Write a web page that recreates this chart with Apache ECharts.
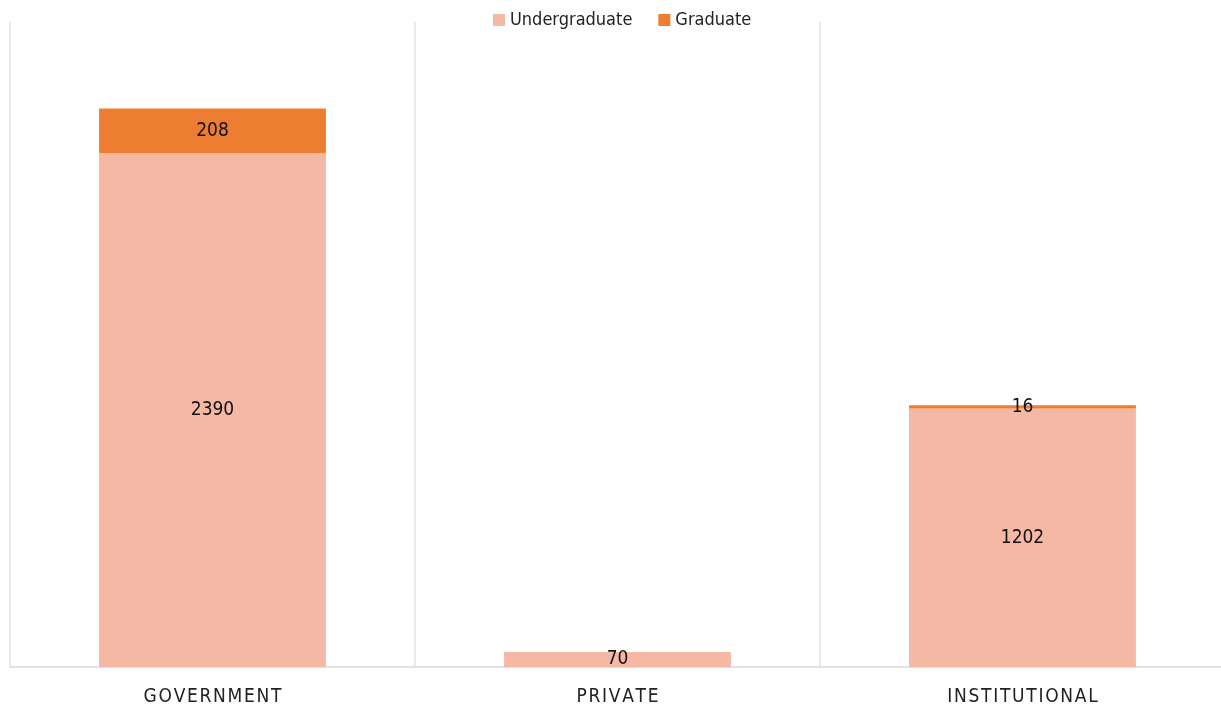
<!DOCTYPE html>
<html>
<head>
<meta charset="utf-8">
<style>html,body{margin:0;padding:0;background:#fff}#c{width:1221px;height:709px}</style>
<script src="https://cdn.jsdelivr.net/npm/echarts@6/dist/echarts.min.js"></script>
</head>
<body>
<div id="c"></div>
<script>
const categories = ["GOVERNMENT", "PRIVATE", "INSTITUTIONAL"];
const undergraduate = [2390, 70, 1202];
const graduate = [208, 0, 16];
const seriesNames = ["Undergraduate", "Graduate"];

const font = "'DejaVu Sans Condensed', 'Liberation Sans', sans-serif";
const chart = echarts.init(document.getElementById('c'));
chart.setOption({
  animation: false,
  legend: {
    top: 6, left: 488, itemWidth: 12, itemHeight: 12, itemGap: 26, itemTextGap: 5,
    icon: 'rect',
    textStyle: { fontFamily: font, fontSize: 18, color: '#222' },
    data: seriesNames
  },
  grid: { left: 10, top: 22, width: 1215, bottom: 42, containLabel: false, outerBoundsMode: 'none' },
  xAxis: {
    type: 'category', data: categories,
    axisLine: { lineStyle: { color: '#d9d9d9', width: 1.5 } },
    axisTick: { show: false },
    splitLine: { show: true, lineStyle: { color: '#e3e3e3', width: 1.5 } },
    axisLabel: {
      interval: 0, margin: 21, color: '#222', fontFamily: font, fontSize: 19,
      formatter: v => v.split('').join('\u200A')
    }
  },
  yAxis: { type: 'value', min: 0, max: 3000, show: false, splitLine: { show: false } },
  series: [
    {
      name: seriesNames[0], type: 'bar', stack: 't', barWidth: '56%', data: undergraduate,
      itemStyle: { color: '#F4B8A4' },
      label: { show: true, position: 'inside', color: '#111', fontFamily: font, fontSize: 19 }
    },
    {
      name: seriesNames[1], type: 'bar', stack: 't', barWidth: '56%', data: graduate,
      itemStyle: { color: '#ED7D31' },
      label: { show: true, position: 'inside', color: '#111', fontFamily: font, fontSize: 19,
        formatter: p => p.value ? p.value : '' }
    }
  ]
});
</script>
</body>
</html>
